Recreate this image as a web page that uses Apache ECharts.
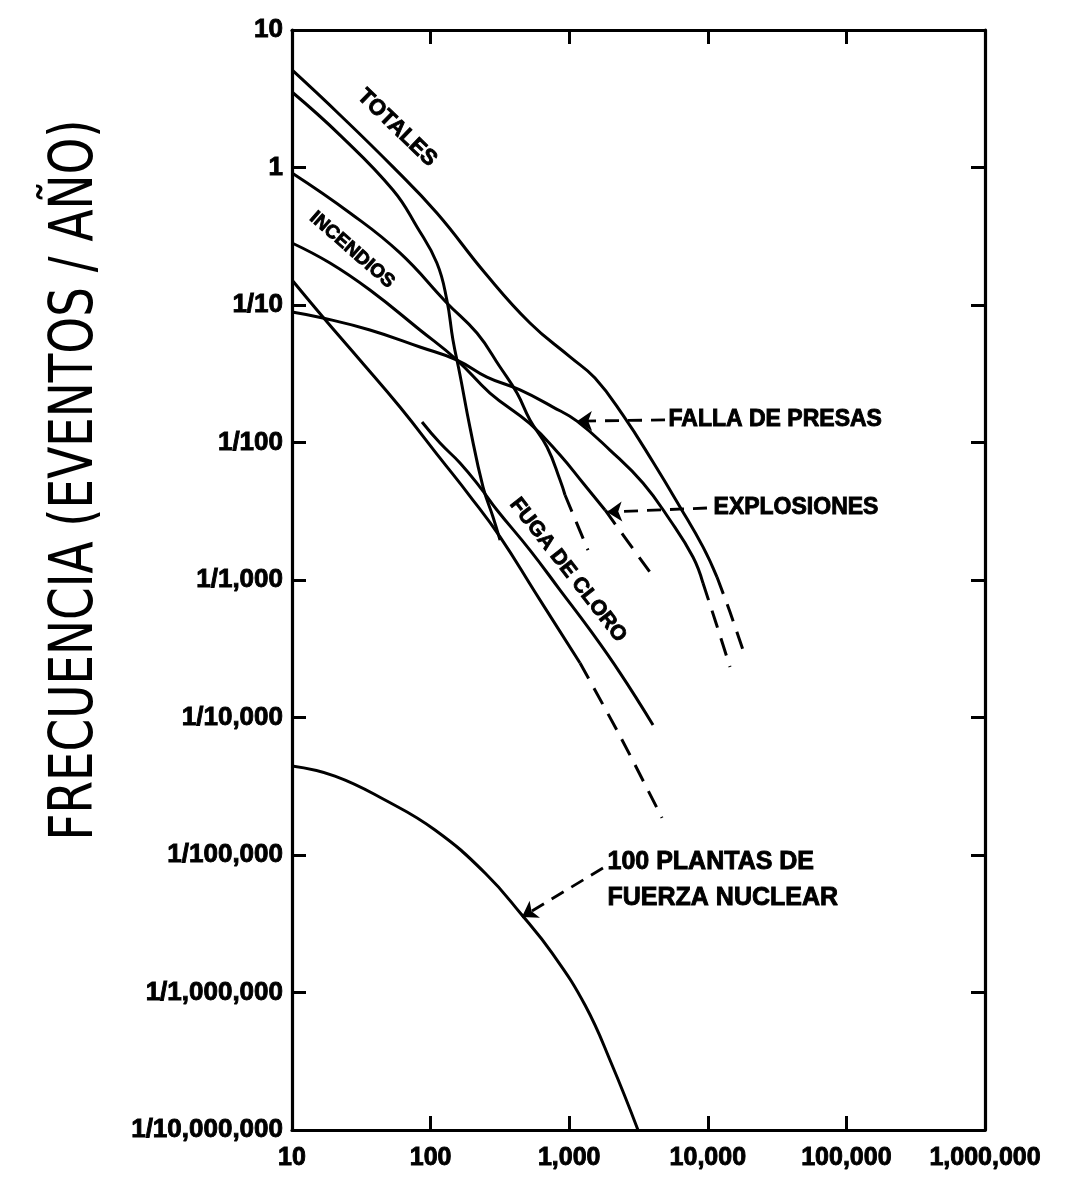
<!DOCTYPE html>
<html><head><meta charset="utf-8">
<script src="https://cdn.jsdelivr.net/npm/echarts@6/dist/echarts.min.js"></script>
<style>html,body{margin:0;padding:0;background:#fff}#c{width:1072px;height:1182px}</style>
</head><body><div id="c"></div>
<script>
// ---- data (fatalities, events per year) ----
const xTickLabels = {1:'10',2:'100',3:'1,000',4:'10,000',5:'100,000',6:'1,000,000'};
const yTickLabels = {1:'10',0:'1','-1':'1/10','-2':'1/100','-3':'1/1,000','-4':'1/10,000','-5':'1/100,000','-6':'1/1,000,000','-7':'1/10,000,000'};

const totales = [[10,5.12],[22.2,2.41],[53.5,1.01],[111,0.467],[247,0.171],[521,0.074],[1014,0.0419],[1535,0.0294],[2443,0.0158],[4024,0.00721],[6300,0.0034],[9230,0.00174],[11650,0.00105]];
const totalesExt = [[11650,0.00105],[14460,0.000585],[17950,0.00031]];
const aereosTotal = [[10,3.54],[22.2,1.72],[53.5,0.686],[79.8,0.369],[111,0.202],[131,0.1087],[145,0.0557],[163,0.031],[192,0.013],[239,0.00474],[282,0.00287],[317,0.00195]];
const incendios = [[10,0.912],[26.2,0.467],[60.1,0.239],[131,0.1035],[216,0.0625],[317,0.0354],[420,0.0229],[521,0.0146],[692,0.00927],[859,0.00533],[933,0.00415]];
const incendiosExt = [[933,0.00415],[1366,0.00165]];
const explosiones = [[10,0.2825],[18.8,0.202],[36.5,0.1285],[83.8,0.0658],[155,0.0398],[268,0.0229],[521,0.0137],[859,0.0081],[1258,0.00507],[1813,0.00323]];
const explosionesExt = [[1813,0.00323],[3826,0.00114]];
const presas = [[10,0.0889],[16.7,0.0804],[36.5,0.0658],[83.8,0.0495],[155,0.0398],[255,0.0299],[442,0.0241],[764,0.0181],[1138,0.0143],[1968,0.00881],[3406,0.00507],[5335,0.00273],[7816,0.00147],[9230,0.00095]];
const presasExt = [[9230,0.00095],[11460,0.000487],[14460,0.000233]];
const aereosTierra = [[10,0.152],[16.7,0.0818],[30.9,0.0398],[60.1,0.0181],[117,0.0077],[192,0.00408],[317,0.00206],[566,0.000818],[1197,0.000249]];
const aereosTierraExt = [[1197,0.000249],[2366,7.1e-5],[4673,1.86e-5]];
const cloro = [[86.7,0.0141],[117,0.0099],[163,0.0071],[227,0.00474],[301,0.00323],[521,0.00165],[859,0.000845],[1413,0.000433],[2326,0.000211],[4024,8.82e-5]];
const nuclear = [[10,4.44e-5],[20.4,3.75e-5],[46.9,2.51e-5],[107.6,1.52e-5],[247,7.4e-6],[456,3.66e-6],[751,1.94e-6],[1300,8.1e-7],[2037,2.97e-7],[3135,1e-7]];

// annotation anchors (data coordinates)
const curveLabels = [
  {text:'TOTALES', at:[57.2,1.94], rotate:-44, size:22},
  {text:'INCENDIOS', at:[27.1,0.251], rotate:-41, size:19},
  {text:'FUGA DE CLORO', at:[980,0.00118], rotate:-52, size:21}
];
const sideLabels = [
  {text:'FALLA DE PRESAS', at:[5164,0.0146], size:23},
  {text:'EXPLOSIONES', at:[10910,0.00334], size:23},
  {text:'100 PLANTAS DE', at:[1874,8.9e-6], size:25},
  {text:'FUERZA NUCLEAR', at:[1874,4.87e-6], size:25}
];
const leaders = [
  [[4913,0.0146],[1138,0.0143]],
  [[9862,0.00334],[1874,0.00312]],
  [[1753,8.04e-6],[456,3.54e-6]]
];

const FONT = '"Liberation Sans", Arial, sans-serif';
const HEAVY = {fontWeight:'bold', fontFamily:FONT, color:'#000', textBorderColor:'#000', textBorderWidth:0.9, opacity:1};
const chart = echarts.init(document.getElementById('c'), null, {renderer:'canvas'});
const exp10 = v => Math.round(Math.log10(v));

function solid(name, data){ return {name, type:'line', data, showSymbol:false, symbol:'none', smooth:0.45, lineStyle:{color:'#000', width:3}, animation:false, z:3}; }
function dashed(name, data){ return {name, type:'line', data, showSymbol:false, symbol:'none', smooth:0.3, lineStyle:{color:'#000', width:3, type:[18,11]}, animation:false, z:3}; }

const annoData = curveLabels.map(l => ({name:l.text, value:l.at, label:Object.assign({show:true, rotate:l.rotate, position:'inside', fontSize:l.size}, HEAVY)}))
  .concat(sideLabels.map(l => ({name:l.text, value:l.at, label:Object.assign({show:true, position:'right', distance:0, fontSize:l.size}, HEAVY)})));

const axisCommon = {
  type:'log', logBase:10,
  axisLine:{lineStyle:{color:'#000', width:3.2}},
  axisTick:{inside:true, length:14, lineStyle:{color:'#000', width:3}},
  splitLine:{show:false}, minorTick:{show:false}
};

chart.setOption({
  backgroundColor:'#fff',
  animation:false,
  grid:{left:292, right:87, top:30, bottom:52, containLabel:false, outerBoundsMode:'none'},
  xAxis:[
    Object.assign({}, axisCommon, {min:10, max:1e6, interval:1, position:'bottom',
      axisLabel:Object.assign({margin:16, fontSize:25, formatter:v => xTickLabels[exp10(v)] || ''}, HEAVY)}),
    Object.assign({}, axisCommon, {min:10, max:1e6, interval:1, position:'top', axisLabel:{show:false}})
  ],
  yAxis:[
    Object.assign({}, axisCommon, {min:1e-7, max:10, interval:1, position:'left',
      axisLabel:Object.assign({margin:9, fontSize:26, formatter:v => yTickLabels[exp10(v)] || ''}, HEAVY)}),
    Object.assign({}, axisCommon, {min:1e-7, max:10, interval:1, position:'right', axisLabel:{show:false}})
  ],
  graphic:[{
    type:'text', x:76, y:480, rotation:Math.PI/2, scaleX:0.78, z:10,
    style:{text:'FRECUENCIA (EVENTOS / AÑO)', font:'normal 60px "DejaVu Sans", sans-serif', fill:'#000', textAlign:'center', textVerticalAlign:'middle'}
  }],
  series:[
    solid('Totales', totales), dashed('Totales ext', totalesExt),
    solid('Aéreos total', aereosTotal),
    solid('Incendios', incendios), dashed('Incendios ext', incendiosExt),
    solid('Explosiones', explosiones), dashed('Explosiones ext', explosionesExt),
    solid('Falla de presas', presas), dashed('Falla de presas ext', presasExt),
    solid('Aéreos tierra', aereosTierra), dashed('Aéreos tierra ext', aereosTierraExt),
    solid('Fuga de cloro', cloro),
    solid('100 plantas nucleares', nuclear),
    {name:'anotaciones', type:'scatter', data:annoData, symbolSize:1, itemStyle:{color:'rgba(0,0,0,0)'}, silent:true, animation:false, z:5,
      label:Object.assign({show:true, formatter:p => p.name}, HEAVY),
      markLine:{silent:true, animation:false, symbol:['none','arrow'], symbolSize:15, label:{show:false},
        lineStyle:{color:'#000', width:2.8, type:[14,9]},
        data: leaders.map(s => [{coord:s[0]},{coord:s[1]}])}}
  ]
});
</script></body></html>
